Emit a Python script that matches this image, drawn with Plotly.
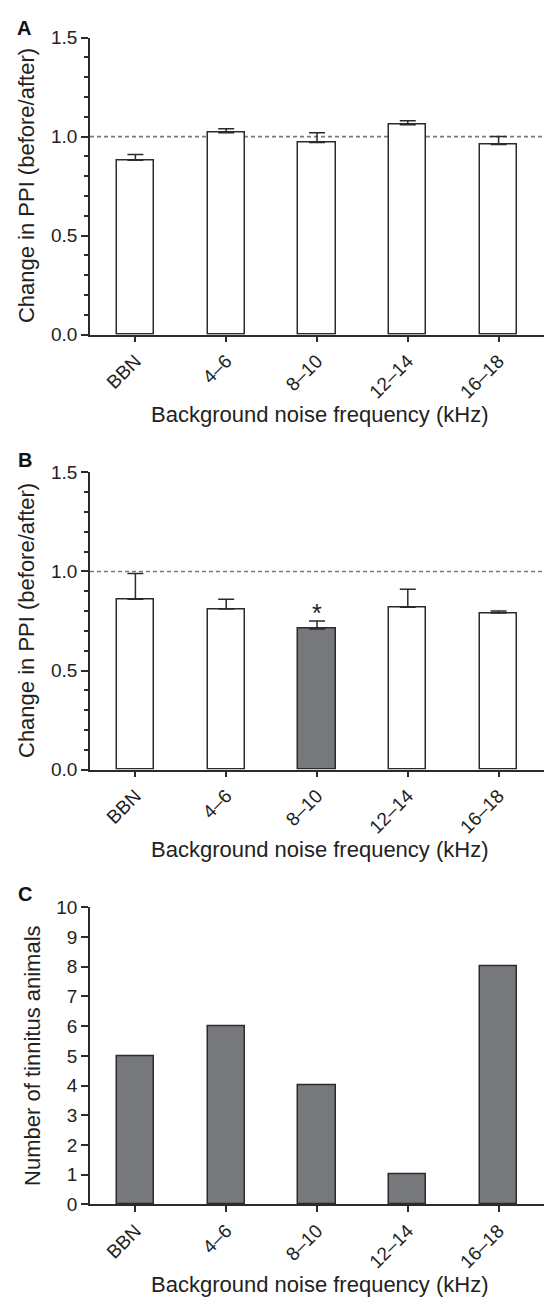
import plotly.graph_objects as go

# ---------------- data ----------------
categories = ["BBN", "4–6", "8–10", "12–14", "16–18"]

ppi_a = [0.88, 1.02, 0.97, 1.06, 0.96]
ppi_a_err = [0.03, 0.02, 0.05, 0.02, 0.04]

ppi_b = [0.86, 0.81, 0.71, 0.82, 0.79]
ppi_b_err = [0.13, 0.05, 0.04, 0.09, 0.01]
significant_b = [False, False, True, False, False]

tinnitus_counts = [5, 6, 4, 1, 8]

# ---------------- style ----------------
W, H = 544, 1305
ML = 90
FONT = "Liberation Sans, Arial, Helvetica, sans-serif"
AX = "#2b2b2b"
GRAY = "#77787c"
TICK_FS = 19
TITLE_FS = 22


def ypaper(px):
    return 1 - px / H


def xpaper(px):
    return (px - ML) / (W - ML)


# pixel extents of each panel (top, bottom)
panels = {"A": (28, 330), "B": (470, 772), "C": (912, 1214)}

fig = go.Figure()

err_common = dict(type="data", symmetric=False, thickness=1.5, width=8, color=AX)
line_common = dict(color=AX, width=1.5)

fig.add_trace(go.Bar(
    x=categories, y=ppi_a, xaxis="x", yaxis="y", width=0.41,
    marker=dict(color="white", line=line_common),
    error_y=dict(array=ppi_a_err, arrayminus=[0] * len(ppi_a), **err_common),
    showlegend=False,
))
fig.add_trace(go.Bar(
    x=categories, y=ppi_b, xaxis="x2", yaxis="y2", width=0.41,
    marker=dict(color=[GRAY if s else "white" for s in significant_b], line=line_common),
    error_y=dict(array=ppi_b_err, arrayminus=[0] * len(ppi_b), **err_common),
    showlegend=False,
))
fig.add_trace(go.Bar(
    x=categories, y=tinnitus_counts, xaxis="x3", yaxis="y3", width=0.41,
    marker=dict(color=GRAY, line=line_common),
    showlegend=False,
))

xcommon = dict(
    type="category", range=[-0.5, 4.5], domain=[0, 1],
    showline=True, linecolor=AX, linewidth=1.5,
    ticks="outside", ticklen=6, tickwidth=1.5, tickcolor=AX,
    tickangle=-45, tickfont=dict(size=TICK_FS, color="#222", family=FONT),
    showgrid=False, zeroline=False,
)
ycommon = dict(
    showline=True, linecolor=AX, linewidth=1.5,
    ticks="outside", ticklen=7, tickwidth=1.5, tickcolor=AX,
    tickfont=dict(size=TICK_FS, color="#222", family=FONT),
    showgrid=False, zeroline=False,
)
ppi_y = dict(range=[0, 1.5], tick0=0, dtick=0.5, tickformat=".1f",
             minor=dict(dtick=0.1, ticks="outside", ticklen=4, tickwidth=1.5, tickcolor=AX))


def dom(key):
    t, b = panels[key]
    return [ypaper(b), ypaper(t)]


fig.update_layout(
    width=W, height=H,
    margin=dict(l=ML, r=0, t=0, b=0),
    paper_bgcolor="white", plot_bgcolor="white",
    font=dict(family=FONT, color="#222"),
    bargap=0,
    xaxis=dict(anchor="y", **xcommon),
    yaxis=dict(anchor="x", domain=dom("A"), **ycommon, **ppi_y),
    xaxis2=dict(anchor="y2", **xcommon),
    yaxis2=dict(anchor="x2", domain=dom("B"), **ycommon, **ppi_y),
    xaxis3=dict(anchor="y3", **xcommon),
    yaxis3=dict(anchor="x3", domain=dom("C"), range=[0, 10], tick0=0, dtick=1, **ycommon),
)

# reference lines at 1.0
for yref, xref in (("y", "x"), ("y2", "x2")):
    fig.add_shape(type="line", xref=f"{xref} domain", yref=yref, x0=0, x1=1, y0=1.0, y1=1.0,
                  line=dict(color="#7a7a7a", width=1.6, dash="4px,3px"), layer="below")

ann = []
# significance asterisk
for cat, val, err, sig in zip(categories, ppi_b, ppi_b_err, significant_b):
    if sig:
        ann.append(dict(x=cat, y=val + err + 0.04, xref="x2", yref="y2", text="*",
                        showarrow=False, font=dict(size=25, color="#222"), yanchor="middle"))

# panel letters
for letter, (px_x, px_y) in (("A", (24, 18)), ("B", (25, 457)), ("C", (25, 898))):
    ann.append(dict(x=xpaper(px_x), y=ypaper(px_y), xref="paper", yref="paper", text=f"<b>{letter}</b>",
                    showarrow=False, font=dict(size=20, color="#111"), xanchor="center", yanchor="middle"))

# y titles
ytitles = [("Change in PPI (before/after)", 26, "A"),
           ("Change in PPI (before/after)", 26, "B"),
           ("Number of tinnitus animals", 33, "C")]
for text, px_x, key in ytitles:
    t, b = panels[key]
    ann.append(dict(x=xpaper(px_x), y=ypaper((t + b) / 2), xref="paper", yref="paper", text=text,
                    textangle=-90, showarrow=False, font=dict(size=TITLE_FS, color="#222"),
                    xanchor="center", yanchor="middle"))

# x titles
for key in ("A", "B", "C"):
    t, b = panels[key]
    ann.append(dict(x=xpaper(320), y=ypaper(b + 81), xref="paper", yref="paper",
                    text="Background noise frequency (kHz)", showarrow=False,
                    font=dict(size=TITLE_FS, color="#222"), xanchor="center", yanchor="middle"))

fig.update_layout(annotations=ann)

fig.write_html("out.html")
